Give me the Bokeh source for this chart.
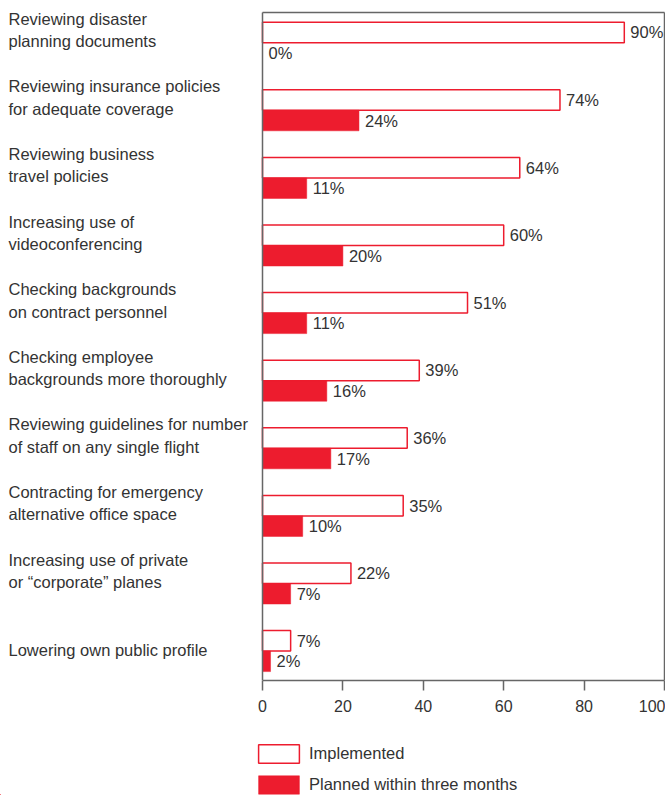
from bokeh.plotting import figure
from bokeh.layouts import column
from bokeh.models import Range1d, FixedTicker, Legend, LegendItem, ColumnDataSource
from bokeh.core.properties import value
from bokeh.embed import file_html
from bokeh.resources import INLINE

categories = [
    "Reviewing disaster\nplanning documents",
    "Reviewing insurance policies\nfor adequate coverage",
    "Reviewing business\ntravel policies",
    "Increasing use of\nvideoconferencing",
    "Checking backgrounds\non contract personnel",
    "Checking employee\nbackgrounds more thoroughly",
    "Reviewing guidelines for number\nof staff on any single flight",
    "Contracting for emergency\nalternative office space",
    "Increasing use of private\nor \u201ccorporate\u201d planes",
    "Lowering own public profile",
]
implemented = [90, 74, 64, 60, 51, 39, 36, 35, 22, 7]
planned = [0, 24, 11, 20, 11, 16, 17, 10, 7, 2]
x_ticks = [0, 20, 40, 60, 80, 100]
series_names = ["Implemented", "Planned within three months"]

RED = "#ED1C2E"
TXT = "#333333"
GRAY = "#666666"
FONT = "Liberation Sans"
FS = "16.5px"

W, H = 665, 795
FRAME_H = 680
MAIN_H = 725
LEG_H = H - MAIN_H
PX_PER_X = 4.02
X0_PX = 262
PITCH = 67.6
C0 = 42.2
BAR_PX = 20.5

n = len(categories)
idx = list(range(n))
bh = BAR_PX / PITCH

x_start = -X0_PX / PX_PER_X
x_end = (W - X0_PX) / PX_PER_X
y_bottom = (FRAME_H - C0) / PITCH
y_top = -C0 / PITCH
top_line = (12 - C0) / PITCH

p = figure(width=W, height=MAIN_H, output_backend="svg", toolbar_location=None,
           x_range=Range1d(x_start, x_end), y_range=Range1d(y_bottom, y_top),
           y_axis_location=None, min_border_left=0, min_border_right=0,
           min_border_top=0, min_border_bottom=MAIN_H - FRAME_H)
p.outline_line_color = None
p.xgrid.visible = False
p.ygrid.visible = False
p.background_fill_color = "white"
p.border_fill_color = "white"

imp_y = [i - bh / 2 for i in idx]
pl_y = [i + bh / 2 for i in idx]

src = ColumnDataSource(dict(y_imp=imp_y, y_pl=pl_y, imp=implemented, pl=planned,
                            imp_t=[f"{v}%" for v in implemented],
                            pl_t=[f"{v}%" for v in planned]))

imp_style = dict(fill_color="white", line_color=RED, line_width=1.5)
pl_style = dict(fill_color=RED, line_color=RED, line_width=0.5)

p.hbar(y="y_imp", right="imp", left=0, height=bh, source=src, **imp_style)
p.hbar(y="y_pl", right="pl", left=0, height=bh, source=src, **pl_style)

p.text(x="imp", y="y_imp", text="imp_t", source=src, x_offset=6,
       text_align="left", text_baseline="middle", text_color=TXT,
       text_font=value(FONT), text_font_size=FS)
p.text(x="pl", y="y_pl", text="pl_t", source=src, x_offset=6,
       text_align="left", text_baseline="middle", text_color=TXT,
       text_font=value(FONT), text_font_size=FS)

# category labels (left side)
line1_y, line1_t, line2_y, line2_t = [], [], [], []
for i, c in enumerate(categories):
    parts = c.split("\n")
    if len(parts) == 2:
        line1_y.append(i - 24 / PITCH)
        line1_t.append(parts[0])
        line2_y.append(i - 1.5 / PITCH)
        line2_t.append(parts[1])
    else:
        line2_y.append(i - 1.5 / PITCH)
        line2_t.append(parts[0])
lab_x = x_start + 8 / PX_PER_X
p.text(x=[lab_x] * len(line1_t), y=line1_y, text=line1_t, text_align="left",
       text_baseline="middle", text_color=TXT, text_font=value(FONT), text_font_size=FS)
p.text(x=[lab_x] * len(line2_t), y=line2_y, text=line2_t, text_align="left",
       text_baseline="middle", text_color=TXT, text_font=value(FONT), text_font_size=FS)

# frame box lines
p.segment(x0=[0, 0, 100], y0=[top_line, top_line, top_line],
          x1=[0, 100, 100], y1=[y_bottom, top_line, y_bottom],
          line_color=GRAY, line_width=1.5)

ax = p.xaxis[0]
ax.ticker = FixedTicker(ticks=x_ticks)
ax.bounds = (0, 100)
ax.axis_line_color = GRAY
ax.axis_line_width = 1.5
ax.major_tick_line_color = GRAY
ax.major_tick_line_width = 1.5
ax.major_tick_out = 10
ax.major_tick_in = 0
ax.minor_tick_line_color = None
ax.major_label_text_font = FONT
ax.major_label_text_font_size = "16px"
ax.major_label_text_color = TXT
ax.major_label_standoff = 9

# legend figure (shares the data source; its ranges keep the bars out of view)
q = figure(width=W, height=LEG_H, output_backend="svg", toolbar_location=None,
           x_range=Range1d(1000, 1001), y_range=Range1d(1000, 1001),
           x_axis_location=None, y_axis_location=None,
           min_border_left=0, min_border_right=0, min_border_top=0, min_border_bottom=0)
q.outline_line_color = None
q.xgrid.visible = False
q.ygrid.visible = False
q.background_fill_color = "white"
q.border_fill_color = "white"
lr_imp = q.hbar(y="y_imp", right="imp", left=0, height=bh, source=src, **imp_style)
lr_pl = q.hbar(y="y_pl", right="pl", left=0, height=bh, source=src, **pl_style)

legend = Legend(items=[LegendItem(label=series_names[0], renderers=[lr_imp]),
                       LegendItem(label=series_names[1], renderers=[lr_pl])],
                location=(253, -1), orientation="vertical",
                glyph_width=51, glyph_height=23, spacing=8, padding=0, margin=0,
                label_standoff=5, label_text_font=FONT, label_text_font_size="16.5px",
                label_text_color=TXT, border_line_color=None, background_fill_alpha=0)
q.add_layout(legend)

layout = column(p, q, spacing=0)
open("out.html", "w").write(file_html(layout, INLINE))
